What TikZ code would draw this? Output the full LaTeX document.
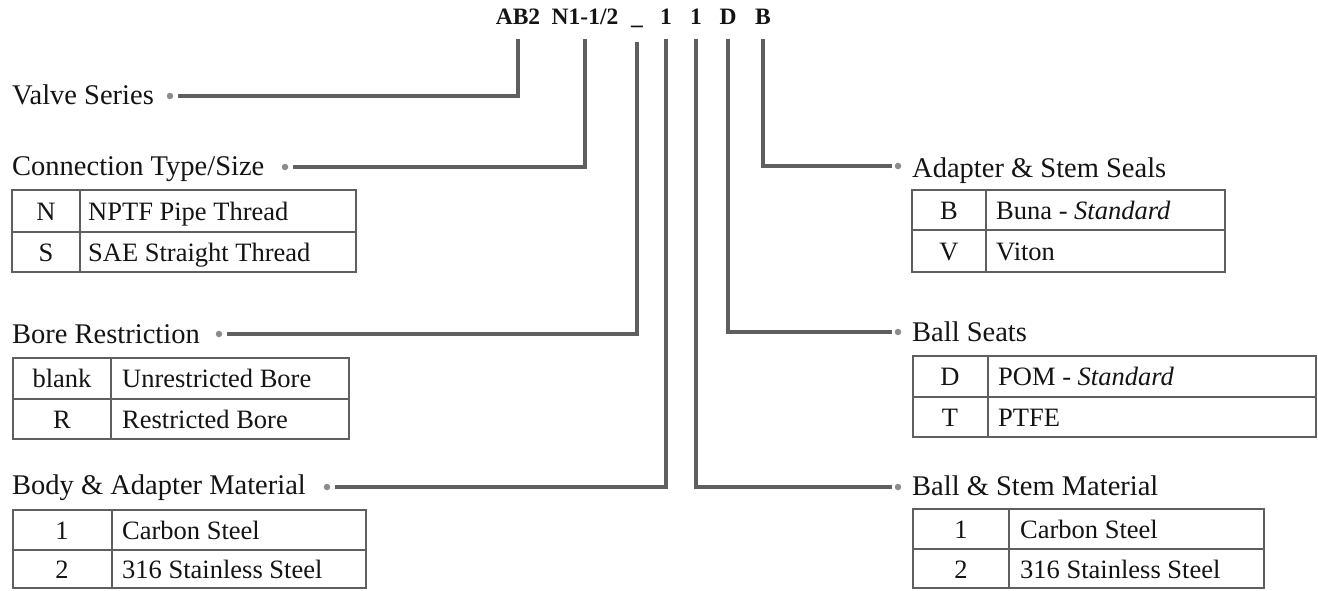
\documentclass[tikz,border=0pt]{standalone}
\usepackage{fontspec}
\setmainfont{Liberation Serif}
\definecolor{leadgray}{RGB}{95,95,95}
\definecolor{tabgray}{RGB}{95,95,95}
\definecolor{dotgray}{RGB}{140,140,140}
\definecolor{ink}{RGB}{20,20,20}
\begin{document}
\begin{tikzpicture}[x=1pt,y=-1pt,
  lead/.style={draw=leadgray,line width=3.2pt},
  tab/.style={draw=tabgray,line width=2.2pt},
  lbl/.style={anchor=base west,inner sep=0pt,text=ink,font=\fontsize{28.5}{30}\selectfont},
  cellc/.style={anchor=base,inner sep=0pt,text=ink,font=\fontsize{26.5}{28}\selectfont},
  celll/.style={anchor=base west,inner sep=0pt,text=ink,font=\fontsize{26.5}{28}\selectfont},
  codetxt/.style={anchor=base,inner sep=0pt,text=ink,font=\fontsize{23.5}{25}\selectfont\bfseries},
  dotm/.style={circle,fill=dotgray,inner sep=0pt,minimum size=6.5pt}]
\useasboundingbox[fill=white] (0,0) rectangle (1318,590);

% code letters
\node[codetxt] (c1) at (518,24) {AB2};
\node[codetxt] (c2) at (585,24) {N1-1/2};
\node[codetxt] (c3) at (637,24) {\_};
\node[codetxt] (c4) at (666,24) {1};
\node[codetxt] (c5) at (696,24) {1};
\node[codetxt] (c6) at (728,24) {D};
\node[codetxt] (c7) at (763,24) {B};

% dots
\node[dotm] (d1) at (170,96) {};
\node[dotm] (d2) at (285,167) {};
\node[dotm] (d3) at (219,334) {};
\node[dotm] (d4) at (327,487) {};
\node[dotm] (d5) at (898,166) {};
\node[dotm] (d6) at (898,332) {};
\node[dotm] (d7) at (898,487) {};

% connectors
\draw[lead,shorten >=8pt] ([yshift=-15pt]c1.south) |- (d1.center);
\draw[lead,shorten >=8pt] ([yshift=-15pt]c2.south) |- (d2.center);
\draw[lead,shorten >=8pt] ([yshift=-15pt]c3.south) |- (d3.center);
\draw[lead,shorten >=8pt] ([yshift=-15pt]c4.south) |- (d4.center);
\draw[lead,shorten >=6pt] ([yshift=-15pt]c5.south) |- (d7.center);
\draw[lead,shorten >=6pt] ([yshift=-15pt]c6.south) |- (d6.center);
\draw[lead,shorten >=6pt] ([yshift=-15pt]c7.south) |- (d5.center);

% labels
\node[lbl] (l1) at (12,104) {Valve Series};
\node[lbl] (l2) at (12,175) {Connection Type/Size};
\node[lbl] (l3) at (12,343) {Bore Restriction};
\node[lbl] (l4) at (12,494) {Body \& Adapter Material};
\node[lbl] (l5) at (912,177) {Adapter \& Stem Seals};
\node[lbl] (l6) at (912,341) {Ball Seats};
\node[lbl] (l7) at (912,495) {Ball \& Stem Material};

% table 1
\draw[tab] (12,190) rectangle (356,272);
\draw[tab] (12,232) -- (356,232);
\draw[tab] (80,190) -- (80,272);
\node[cellc] (t1a) at (46,220) {N};
\node[celll] (t1b) at (88,220) {NPTF Pipe Thread};
\node[cellc] (t1c) at (46,261) {S};
\node[celll] (t1d) at (88,261) {SAE Straight Thread};

% table 2
\draw[tab] (13,358) rectangle (349,439);
\draw[tab] (13,399) -- (349,399);
\draw[tab] (111,358) -- (111,439);
\node[cellc] (t2a) at (62,387) {blank};
\node[celll] (t2b) at (122,387) {Unrestricted Bore};
\node[cellc] (t2c) at (62,428) {R};
\node[celll] (t2d) at (122,428) {Restricted Bore};

% table 3
\draw[tab] (13,510) rectangle (366,588);
\draw[tab] (13,550) -- (366,550);
\draw[tab] (112,510) -- (112,588);
\node[cellc] (t3a) at (62,539) {1};
\node[celll] (t3b) at (122,539) {Carbon Steel};
\node[cellc] (t3c) at (62,578) {2};
\node[celll] (t3d) at (122,578) {316 Stainless Steel};

% table 5
\draw[tab] (912,190) rectangle (1225,272);
\draw[tab] (912,230) -- (1225,230);
\draw[tab] (986,190) -- (986,272);
\node[cellc] (t5a) at (949,219) {B};
\node[celll] (t5b) at (996,219) {Buna - \textit{Standard}};
\node[cellc] (t5c) at (949,260) {V};
\node[celll] (t5d) at (996,260) {Viton};

% table 6
\draw[tab] (913,356) rectangle (1316,437);
\draw[tab] (913,397) -- (1316,397);
\draw[tab] (988,356) -- (988,437);
\node[cellc] (t6a) at (950,385) {D};
\node[celll] (t6b) at (998,385) {POM - \textit{Standard}};
\node[cellc] (t6c) at (950,426) {T};
\node[celll] (t6d) at (998,426) {PTFE};

% table 7
\draw[tab] (913,509) rectangle (1264,588);
\draw[tab] (913,549) -- (1264,549);
\draw[tab] (1009,509) -- (1009,588);
\node[cellc] (t7a) at (961,538) {1};
\node[celll] (t7b) at (1020,538) {Carbon Steel};
\node[cellc] (t7c) at (961,578) {2};
\node[celll] (t7d) at (1020,578) {316 Stainless Steel};
\end{tikzpicture}
\end{document}
